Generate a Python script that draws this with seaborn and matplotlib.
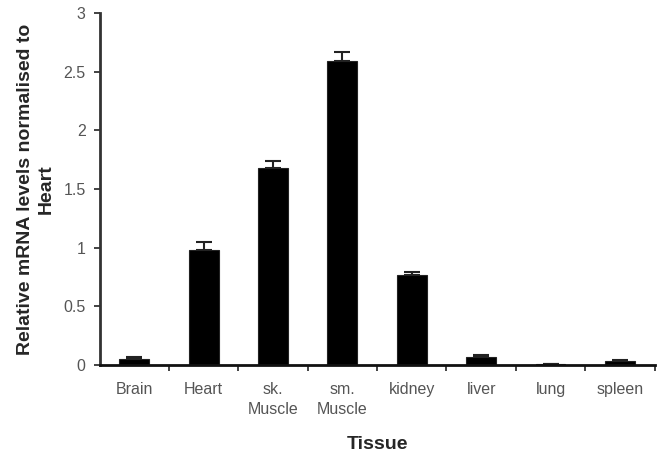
import matplotlib
matplotlib.use("Agg")
import matplotlib.pyplot as plt
import seaborn as sns
import numpy as np
import pandas as pd

tissues = ["Brain", "Heart", "sk.\nMuscle", "sm.\nMuscle", "kidney", "liver", "lung", "spleen"]
levels = [0.055, 0.98, 1.68, 2.59, 0.77, 0.07, 0.01, 0.035]
sem = [0.012, 0.07, 0.06, 0.08, 0.025, 0.015, 0.003, 0.006]
y_ticks = [0, 0.5, 1, 1.5, 2, 2.5, 3]
y_tick_labels = ["0", "0.5", "1", "1.5", "2", "2.5", "3"]

sns.set_theme(style="white")
plt.rcParams["font.family"] = ["Liberation Sans", "DejaVu Sans"]

df = pd.DataFrame({"Tissue": tissues, "Level": levels})

fig = plt.figure(figsize=(6.68, 4.57), dpi=100)
ax = fig.add_axes([0.149, 0.201, 0.831, 0.771])

sns.barplot(data=df, x="Tissue", y="Level", color="black", width=0.43,
            saturation=1, edgecolor="#222222", linewidth=0.8, ax=ax)

# one-sided (upper) error bars
x = np.arange(len(tissues))
ax.errorbar(x, levels, yerr=[np.zeros(len(sem)), sem], fmt="none",
            ecolor="#222222", elinewidth=1.5, capsize=5.5, capthick=1.5)

ax.set_xlim(-0.5, len(tissues) - 0.5)
ax.set_ylim(0, 3)
ax.set_yticks(y_ticks)
ax.set_yticklabels(y_tick_labels)

# category labels centred, tick marks on category boundaries
ax.set_xticks(x)
ax.set_xticklabels(tissues, fontsize=11.5, color="#555555", linespacing=1.4)
ax.tick_params(axis="x", which="major", length=0, pad=12)
ax.set_xticks(np.arange(0.5, len(tissues)), minor=True)
ax.tick_params(axis="x", which="minor", length=4, width=1.2, color="#222222", direction="out")
ax.tick_params(axis="y", length=4, width=1.2, color="#222222", direction="out",
               labelsize=11.5, labelcolor="#555555", pad=6)
ax.yaxis.set_tick_params(left=True)
ax.xaxis.set_tick_params(which="minor", bottom=True)

for side in ["top", "right"]:
    ax.spines[side].set_visible(False)
ax.spines["left"].set_color("#333333")
ax.spines["left"].set_linewidth(2)
ax.spines["bottom"].set_color("#111111")
ax.spines["bottom"].set_linewidth(2)

ax.set_xlabel("Tissue", fontsize=14, fontweight="bold", labelpad=14)
ax.set_ylabel("Relative mRNA levels normalised to\nHeart", fontsize=14,
              fontweight="bold", labelpad=6, linespacing=1.32)
ax.grid(False)

fig.savefig("out.png", dpi=100, facecolor="white")
